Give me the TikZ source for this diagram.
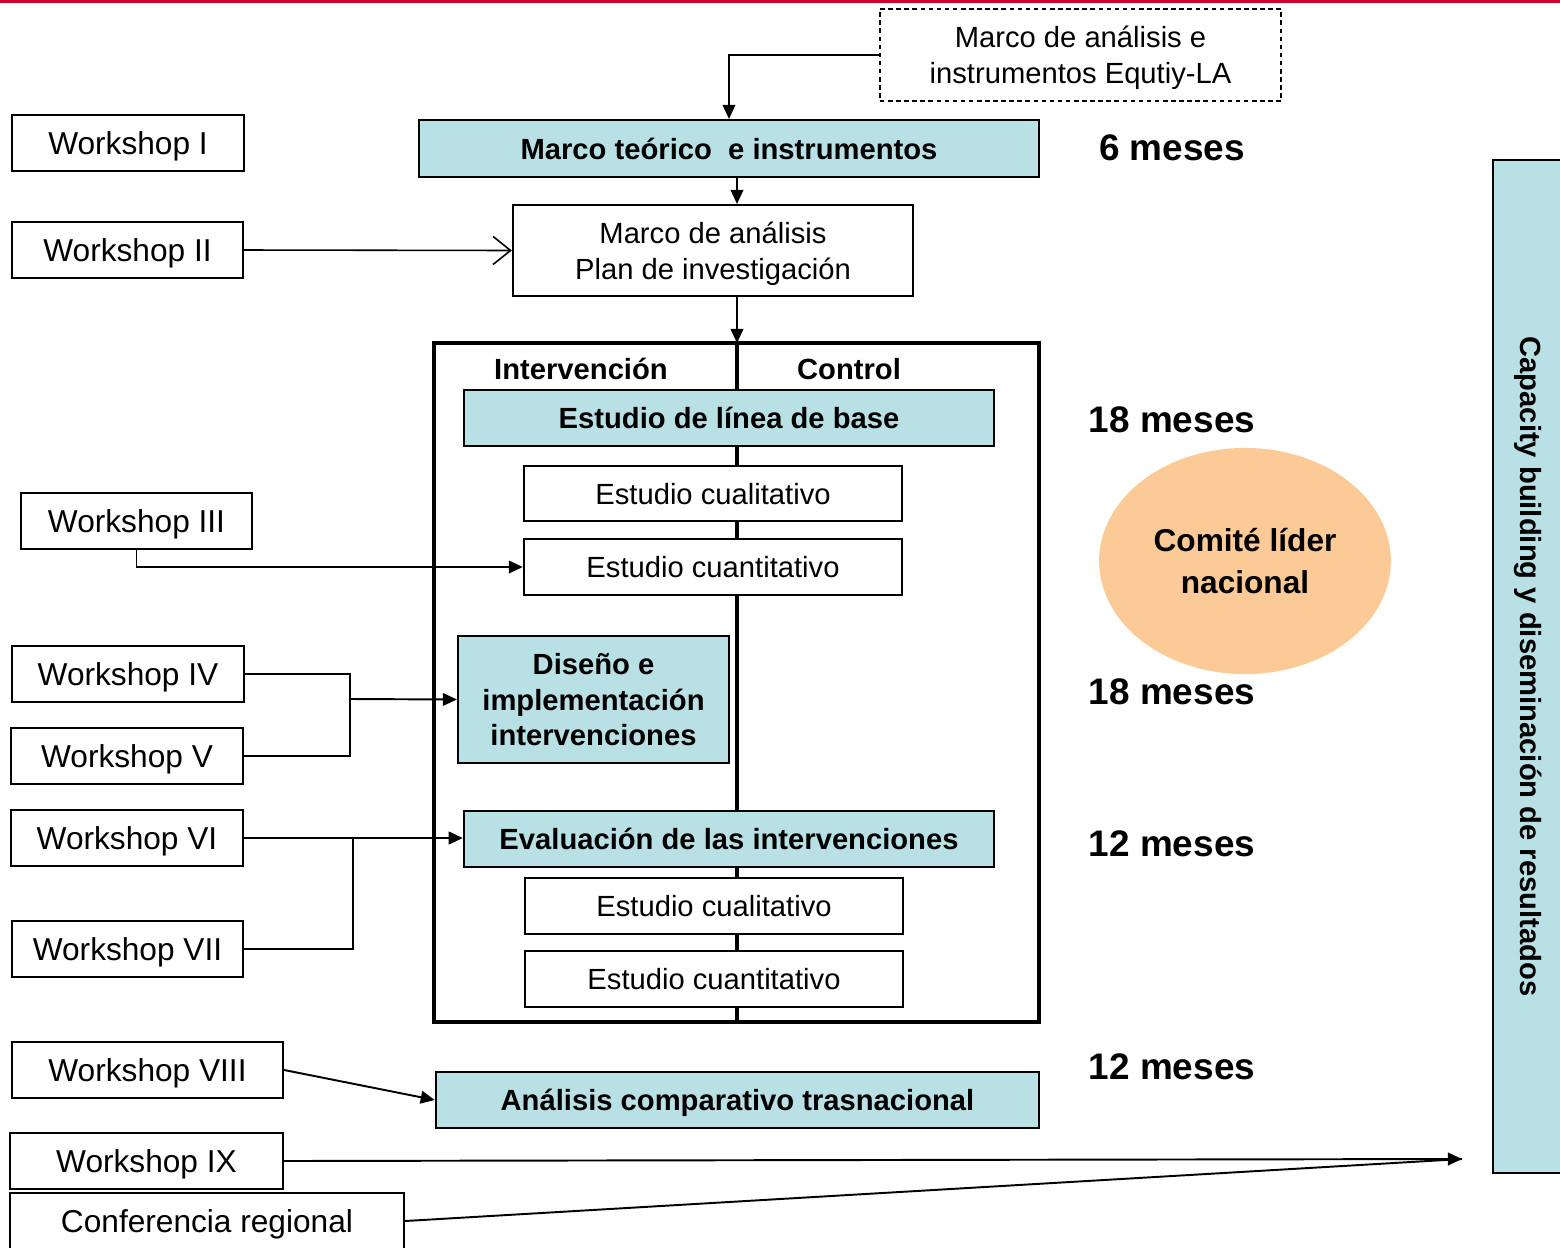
\documentclass[tikz,border=0pt]{standalone}
\usepackage{fontspec}
\setmainfont{Liberation Sans}
\usetikzlibrary{arrows.meta,shapes.geometric}

\definecolor{celeste}{RGB}{185,224,228}
\definecolor{durazno}{RGB}{252,202,150}
\definecolor{rojo}{RGB}{204,0,51}

\tikzset{
  caja/.style={draw, line width=0.6pt, fill=white, inner sep=0pt, align=center,
    text depth=0pt, font=\fontsize{8.3}{10.1}\selectfont},
  cajaazul/.style={caja, fill=celeste, font=\fontsize{8.3}{10.1}\bfseries},
  taller/.style={draw, line width=0.6pt, inner sep=0pt, minimum height=0.56cm,
    text depth=0pt, font=\fontsize{9}{11}\selectfont},
  titulo/.style={font=\fontsize{8.3}{10}\bfseries},
  plazo/.style={font=\fontsize{10.5}{12}\bfseries},
  flecha/.style={-{Triangle[length=4pt,width=3.6pt]}, line width=0.55pt},
  linea/.style={line width=0.55pt}
}

\begin{document}
\begin{tikzpicture}[x=0.01cm,y=-0.01cm]
\useasboundingbox (0,0) rectangle (1560,1248);

% Linea superior
\fill[rojo] (0,0) rectangle (1560,3);

% Marco
\node[caja, dash pattern=on 1.3pt off 1pt, minimum width=4.01cm, minimum height=0.92cm,
  font=\fontsize{8.3}{10.2}\selectfont] (equity) at (1080.5,55)
  {Marco de análisis e\\instrumentos Equtiy-LA};
\node[cajaazul, minimum width=6.2cm, minimum height=0.57cm] (teorico) at (729,148.5)
  {Marco teórico\ \ e instrumentos};
\node[caja, minimum width=4cm, minimum height=0.91cm] (analisis) at (713,250.5)
  {Marco de análisis\\Plan de investigación};

\coordinate (div) at (737,343);

\draw[flecha] (equity.west) -| (teorico.north);
\draw[flecha] (teorico.south -| div) -- (analisis.north -| div);
\draw[flecha] (analisis.south -| div) -- (div);

% Estudio
\node[draw, line width=1.1pt, minimum width=6.05cm, minimum height=6.79cm] (estudio) at (736.5,682.5) {};
\draw[line width=1.2pt] (div) -- (estudio.south -| div);

\node[titulo] (interv) at (581,369) {Intervención};
\node[titulo] (control) at (849,369) {Control};

\node[cajaazul, minimum width=5.3cm, minimum height=0.56cm] (base) at (729,418)
  {Estudio de línea de base};
\node[caja, minimum width=3.78cm, minimum height=0.55cm] (cual1) at (713,493.5)
  {Estudio cualitativo};
\node[caja, minimum width=3.78cm, minimum height=0.56cm] (cuan1) at (713,567)
  {Estudio cuantitativo};

\node[cajaazul, minimum width=2.71cm, minimum height=1.27cm,
  font=\fontsize{8.3}{10.2}\bfseries] (diseno) at (593.5,699.5)
  {Diseño e\\implementación\\intervenciones};

\node[cajaazul, minimum width=5.3cm, minimum height=0.56cm] (evaluacion) at (729,839)
  {Evaluación de las intervenciones};
\node[caja, minimum width=3.78cm, minimum height=0.56cm] (cual2) at (714,906)
  {Estudio cualitativo};
\node[caja, minimum width=3.78cm, minimum height=0.56cm] (cuan2) at (714,979)
  {Estudio cuantitativo};

\node[cajaazul, minimum width=6.03cm, minimum height=0.56cm] (comparativo) at (737.5,1100)
  {Análisis comparativo trasnacional};

% Workshops
\node[taller, minimum width=2.32cm] (w1) at (128,143) {Workshop I};
\node[taller, minimum width=2.31cm] (w2) at (127.5,250) {Workshop II};
\node[taller, minimum width=2.31cm] (w3) at (136.5,521) {Workshop III};
\node[taller, minimum width=2.32cm] (w4) at (128,674) {Workshop IV};
\node[taller, minimum width=2.32cm] (w5) at (127,756) {Workshop V};
\node[taller, minimum width=2.32cm] (w6) at (127,838) {Workshop VI};
\node[taller, minimum width=2.31cm] (w7) at (127.5,949) {Workshop VII};
\node[taller, minimum width=2.71cm] (w8) at (147.5,1070) {Workshop VIII};
\node[taller, minimum width=2.73cm] (w9) at (146.5,1161) {Workshop IX};
\node[taller, minimum width=3.94cm] (conf) at (207,1221) {Conferencia regional};

\coordinate (j45) at (350,699);
\coordinate (j67) at (353,838);
\coordinate (llegada) at (1462,1159);

\draw[-{Straight Barb[length=5pt,width=8pt]}, line width=0.45pt] (w2.east) -- (analisis.west);
\draw[flecha] (w3.south) |- (cuan1.west);
\draw[linea] (w4.east) -| (j45);
\draw[linea] (w5.east) -| (j45);
\draw[flecha] (j45) -- (diseno.west);
\draw[linea] (w6.east) -| (j67);
\draw[linea] (w7.east) -| (j67);
\draw[flecha] (j67) -- (j67 -| evaluacion.west);
\draw[flecha] (w8.east) -- (comparativo.west);
\draw[flecha] (w9.east) -- (llegada);
\draw[linea] (conf.east) -- (llegada);

% Plazos
\node[plazo] (p1) at (1172,148) {6 meses};
\node[plazo] (p2) at (1172,420) {18 meses};
\node[plazo] (p3) at (1172,692) {18 meses};
\node[plazo] (p4) at (1172,844) {12 meses};
\node[plazo] (p5) at (1172,1067) {12 meses};

\node[ellipse, fill=durazno, minimum width=2.88cm, minimum height=2.26cm, align=center,
  font=\fontsize{9}{12.2}\bfseries] (comite) at (1245,561) {Comité líder\\nacional};

% Difusion
\node[draw, line width=0.6pt, fill=celeste, rotate=-90, minimum width=10.13cm,
  minimum height=0.7cm, inner sep=0pt, font=\fontsize{8.3}{10}\bfseries] (difusion) at (1528,666.5)
  {Capacity building y diseminación de resultados};

\end{tikzpicture}
\end{document}
